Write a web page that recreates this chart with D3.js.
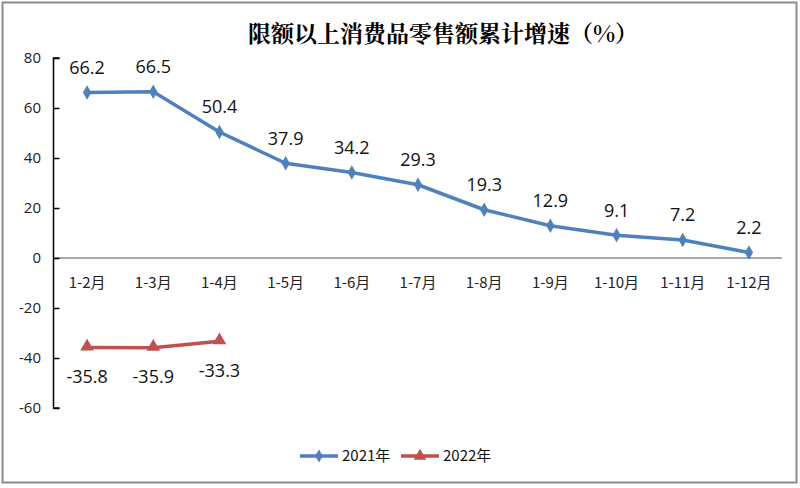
<!DOCTYPE html>
<html>
<head>
<meta charset="utf-8">
<script src="https://cdn.jsdelivr.net/npm/d3@7"></script>
<style>
  body { margin: 0; background: #fff; }
  svg { display: block; }
</style>
</head>
<body>
<svg id="chart" width="800" height="488"></svg>
<script>
// data
let months = ["1-2月", "1-3月", "1-4月", "1-5月", "1-6月", "1-7月", "1-8月", "1-9月", "1-10月", "1-11月", "1-12月"];
let values2021 = [66.2, 66.5, 50.4, 37.9, 34.2, 29.3, 19.3, 12.9, 9.1, 7.2, 2.2];
let values2022 = [-35.8, -35.9, -33.3];
let yTicks = [80, 60, 40, 20, 0, -20, -40, -60];
let seriesNames = ["2021年", "2022年"];

let title = "限额以上消费品零售额累计增速（%）";
let blue = "#4f81bd";
let red = "#c0504d";
let numFont = "'Open Sans', 'Liberation Sans', sans-serif";
let cjkFont = "'Noto Sans CJK SC', sans-serif";

let svg = d3.select("#chart");

// outer frame
svg.append("rect").
attr("x", 2.5).
attr("y", 2.5).
attr("width", 794).
attr("height", 480).
attr("fill", "#fff").
attr("stroke", "#8c8c8c").
attr("stroke-width", 2);

// title
svg.append("text").
attr("x", 443).
attr("y", 42).
attr("text-anchor", "middle").
attr("font-family", "'Noto Serif CJK SC', " + cjkFont).
attr("font-size", 23).
attr("font-weight", "bold").
attr("fill", "#000").
text(title);

// scales
let x = d3.scaleBand().
domain(months).
range([54, 782]);

let y = d3.scaleLinear().
domain([-60, 80]).
range([408, 58]);

// zero line
svg.append("line").
attr("x1", 54).
attr("x2", 782).
attr("y1", y(0)).
attr("y2", y(0)).
attr("stroke", "#8c8c8c").
attr("stroke-width", 1.5);

// y axis, ticks pointing inside
let yAxis = d3.axisRight(y).
tickValues(yTicks).
tickSize(6).
tickFormat("");

let yG = svg.append("g").
attr("transform", "translate(53.5,0)").
call(yAxis);
yG.select(".domain").attr("stroke", "#000").attr("stroke-width", 1.5).attr("d", `M6,${y(80)}H0V${y(-60)}H6`);
yG.selectAll(".tick line").attr("stroke", "#000").attr("stroke-width", 1.5);

svg.append("g").
selectAll("text").
data(yTicks).
enter().
append("text").
attr("x", 41).
attr("y", d => y(d)).
attr("dy", "0.35em").
attr("text-anchor", "end").
attr("font-family", numFont).
attr("font-size", 15).
attr("fill", "#222").
text(d => d);

// category labels
svg.append("g").
selectAll("text").
data(months).
enter().
append("text").
attr("x", d => x(d) + x.bandwidth() / 2).
attr("y", 288).
attr("text-anchor", "middle").
attr("font-family", cjkFont).
attr("font-size", 15).
attr("fill", "#222").
text(d => d);

let cx = (d, i) => x(months[i]) + x.bandwidth() / 2;

let line = d3.line().
x(cx).
y(d => y(d));

// 2021 series
svg.append("path").
datum(values2021).
attr("d", line).
attr("fill", "none").
attr("stroke", blue).
attr("stroke-width", 3.5).
attr("stroke-linejoin", "round");

svg.append("g").
selectAll("path").
data(values2021).
enter().
append("path").
attr("transform", (d, i) => `translate(${cx(d, i)},${y(d)})`).
attr("d", d3.symbol(d3.symbolDiamond, 60)()).
attr("fill", blue);

svg.append("g").
selectAll("text").
data(values2021).
enter().
append("text").
attr("x", cx).
attr("y", d => y(d) - 25).
attr("dy", "0.35em").
attr("text-anchor", "middle").
attr("font-family", numFont).
attr("font-size", 18).
attr("fill", "#111").
text(d => d.toFixed(1));

// 2022 series
svg.append("path").
datum(values2022).
attr("d", line).
attr("fill", "none").
attr("stroke", red).
attr("stroke-width", 3.5).
attr("stroke-linejoin", "round");

svg.append("g").
selectAll("path").
data(values2022).
enter().
append("path").
attr("transform", (d, i) => `translate(${cx(d, i)},${y(d) - 1})`).
attr("d", d3.symbol(d3.symbolTriangle, 80)()).
attr("fill", red);

svg.append("g").
selectAll("text").
data(values2022).
enter().
append("text").
attr("x", cx).
attr("y", d => y(d) + 29).
attr("dy", "0.35em").
attr("text-anchor", "middle").
attr("font-family", numFont).
attr("font-size", 18).
attr("fill", "#111").
text(d => d.toFixed(1));

// legend
let legend = svg.append("g").
attr("transform", "translate(300,456)");

let legendItem = legend.selectAll("g").
data(seriesNames).
enter().
append("g").
attr("transform", (d, i) => `translate(${i * 101},0)`);

legendItem.append("line").
attr("x1", 0).
attr("x2", 38).
attr("stroke", (d, i) => i === 0 ? blue : red).
attr("stroke-width", 3.5);

legendItem.append("path").
attr("transform", "translate(19,0)").
attr("d", (d, i) => d3.symbol(i === 0 ? d3.symbolDiamond : d3.symbolTriangle, i === 0 ? 50 : 70)()).
attr("fill", (d, i) => i === 0 ? blue : red);

legendItem.append("text").
attr("x", 42).
attr("dy", "0.35em").
attr("font-family", cjkFont).
attr("font-size", 15).
attr("fill", "#111").
text(d => d);
</script>
</body>
</html>
